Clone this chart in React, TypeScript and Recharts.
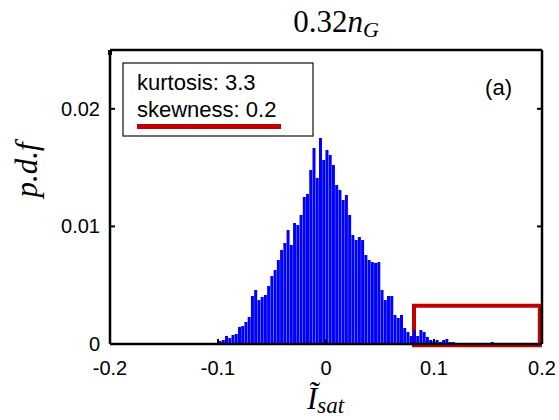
import React from 'react';
import { ComposedChart, Bar, XAxis, YAxis, ReferenceArea } from 'recharts';

// Histogram bins (centres start at BIN_START, spaced by BIN_WIDTH)
const BIN_START = -0.098;
const BIN_WIDTH = 0.003;
const pdfValues = [
  0.00026, 0.00034, 0.00068, 0.00051, 0.00077, 0.00085, 0.00145, 0.00153, 0.00187, 0.0023,
  0.00408, 0.00459, 0.00374, 0.004, 0.00417, 0.00493, 0.00578, 0.00629, 0.00714, 0.008,
  0.00859, 0.00969, 0.00842, 0.01029, 0.01012, 0.01097, 0.0125, 0.01276, 0.0148, 0.01667,
  0.01412, 0.01752, 0.01565, 0.0165, 0.01607, 0.01522, 0.01352, 0.0131, 0.01224, 0.01267,
  0.01097, 0.00927, 0.00884, 0.0091, 0.00884, 0.00757, 0.00714, 0.00697, 0.00689, 0.00697,
  0.00459, 0.00374, 0.00408, 0.00408, 0.00247, 0.00221, 0.00247, 0.00136, 0.00102, 0.00068,
  0.00119, 0.00068, 0.00119, 0.00102, 0.0006, 0.00034, 0.00026, 0.00034, 0.00017, 0.00034,
  0.00043, 0.00017, 0.00017, 0, 0, 0, 0, 0, 0, 0,
  0, 0, 0, 0, 0.00017,
];

const xTicks = [-0.2, -0.1, 0, 0.1, 0.2];
const xTickLabels = ['-0.2', '-0.1', '0', '0.1', '0.2'];
const yTicks = [0, 0.01, 0.02];
const yTickLabels = ['0', '0.01', '0.02'];

const zoomBoxX = [0.0815, 0.198];
const zoomBoxY = [-0.0001, 0.00326];

const statsLines = ['kurtosis: 3.3', 'skewness: 0.2'];
const panelTag = '(a)';

const data = pdfValues.map((v, i) => ({
  x: Number((BIN_START + i * BIN_WIDTH).toFixed(4)),
  pdf: v,
}));

const SANS = 'Liberation Sans, Arial, sans-serif';
const SERIF = 'Liberation Serif, Times New Roman, serif';

const labelFor = (ticks: number[], labels: string[], v: number) => {
  const i = ticks.findIndex((t) => Math.abs(t - v) < 1e-9);
  return i >= 0 ? labels[i] : String(v);
};

const BottomTick = (p: any) => (
  <g>
    <line x1={p.x} x2={p.x} y1={p.y} y2={p.y - 5} stroke="#000" strokeWidth={2} />
    <text x={p.x} y={p.y + 31} textAnchor="middle" fontFamily={SANS} fontSize={20} fill="#000">
      {labelFor(xTicks, xTickLabels, p.payload.value)}
    </text>
  </g>
);
const TopTick = (p: any) => (
  <line x1={p.x} x2={p.x} y1={p.y} y2={p.y + 5} stroke="#000" strokeWidth={2} />
);
const LeftTick = (p: any) => (
  <g>
    <line x1={p.x} x2={p.x + 5} y1={p.y} y2={p.y} stroke="#000" strokeWidth={2} />
    <text x={p.x - 10} y={p.y + 7} textAnchor="end" fontFamily={SANS} fontSize={20} fill="#000">
      {labelFor(yTicks, yTickLabels, p.payload.value)}
    </text>
  </g>
);
const RightTick = (p: any) => (
  <line x1={p.x} x2={p.x - 5} y1={p.y} y2={p.y} stroke="#000" strokeWidth={2} />
);

export default function App() {
  const axisLine = { stroke: '#000', strokeWidth: 2.5 };
  return (
    <div style={{ position: 'absolute', left: 0, top: 0, width: 559, height: 420, background: '#fff' }}>
      <ComposedChart width={559} height={420} data={data} margin={{ top: 49, right: 16, bottom: 36, left: 0 }}>
        <XAxis
          xAxisId="b"
          dataKey="x"
          type="number"
          domain={[-0.2, 0.2]}
          ticks={xTicks}
          interval={0}
          height={40}
          tickSize={0}
          tickMargin={0}
          tickLine={false}
          axisLine={axisLine}
          tick={BottomTick}
          allowDataOverflow
        />
        <XAxis
          xAxisId="t"
          orientation="top"
          type="number"
          domain={[-0.2, 0.2]}
          ticks={xTicks}
          interval={0}
          height={1}
          tickSize={0}
          tickMargin={0}
          tickLine={false}
          axisLine={axisLine}
          tick={TopTick}
          allowDataOverflow
        />
        <YAxis
          yAxisId="l"
          type="number"
          domain={[0, 0.025]}
          ticks={yTicks}
          interval={0}
          width={110}
          tickSize={0}
          tickMargin={0}
          tickLine={false}
          axisLine={axisLine}
          tick={LeftTick}
          allowDataOverflow
        />
        <YAxis
          yAxisId="r"
          orientation="right"
          type="number"
          domain={[0, 0.025]}
          ticks={yTicks}
          interval={0}
          width={1}
          tickSize={0}
          tickMargin={0}
          tickLine={false}
          axisLine={axisLine}
          tick={RightTick}
          allowDataOverflow
        />
        <Bar
          xAxisId="b"
          yAxisId="l"
          dataKey="pdf"
          fill="#0000ff"
          barSize={3}
          isAnimationActive={false}
        />
        <ReferenceArea
          xAxisId="b"
          yAxisId="l"
          x1={zoomBoxX[0]}
          x2={zoomBoxX[1]}
          y1={zoomBoxY[0]}
          y2={zoomBoxY[1]}
          fill="none"
          fillOpacity={0}
          stroke="#c00000"
          strokeWidth={4}
          ifOverflow="visible"
        />
      </ComposedChart>
      <svg
        width={559}
        height={420}
        style={{ position: 'absolute', left: 0, top: 0, pointerEvents: 'none' }}
      >
        <text x={336} y={32} textAnchor="middle" fontFamily={SERIF} fontSize={31} fill="#000">
          0.32<tspan fontStyle="italic">n</tspan>
          <tspan fontStyle="italic" fontSize={22} dy={5}>G</tspan>
        </text>
        <text
          transform="translate(37,170) rotate(-90)"
          textAnchor="middle"
          fontFamily={SERIF}
          fontStyle="italic"
          fontSize={31}
          fill="#000"
        >
          p.d.f
        </text>
        <text x={307} y={409} fontFamily={SERIF} fontStyle="italic" fontSize={31} fill="#000">
          Ĩ<tspan fontSize={23} dy={4}>sat</tspan>
        </text>
        <rect x={123} y={63} width={190} height={73} fill="#fff" stroke="#222" strokeWidth={1.3} />
        <text x={137} y={90} fontFamily={SANS} fontSize={22} fill="#000">{statsLines[0]}</text>
        <text x={137} y={117} fontFamily={SANS} fontSize={22} fill="#000">{statsLines[1]}</text>
        <rect x={137} y={124} width={144} height={5} fill="#c00000" />
        <text x={512} y={95} textAnchor="end" fontFamily={SANS} fontSize={22} fill="#000">{panelTag}</text>
      </svg>
    </div>
  );
}
